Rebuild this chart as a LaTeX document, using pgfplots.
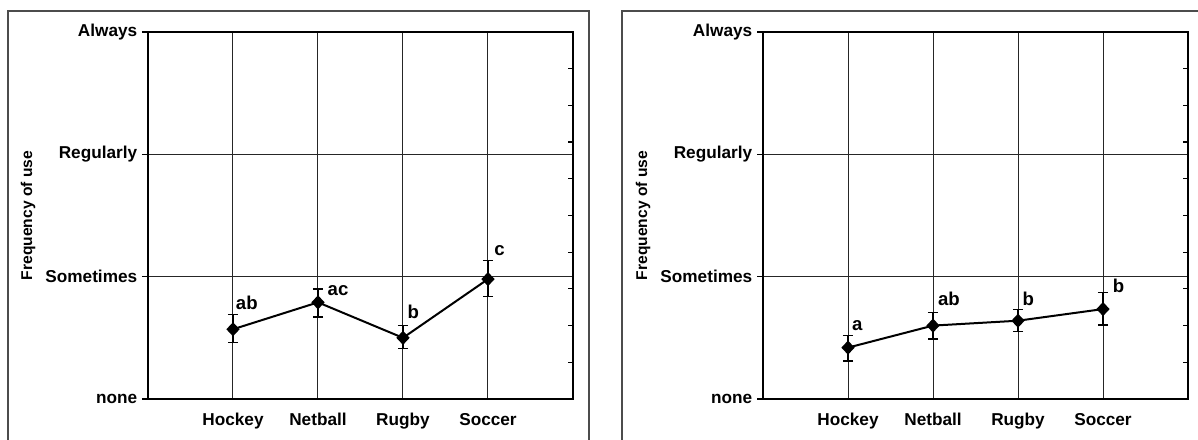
\documentclass[border=0pt]{standalone}
\usepackage{pgfplots}
\pgfplotsset{compat=1.18}
\usepackage{fontspec}
\setmainfont{Liberation Sans}
\begin{document}
\begin{tikzpicture}[x=1pt,y=1pt]
\path[use as bounding box] (0,0) rectangle (599,219.5);
\clip (0,0) rectangle (599,219.5);
\draw[black!70, line width=0.6pt] (4,-5) rectangle (294.5,214);
\draw[black!70, line width=0.6pt] (311,-5) rectangle (610,214);
\pgfplotsset{
  panel/.style={
    scale only axis, width=212.5pt, height=183.5pt, anchor=south west,
    xmin=0, xmax=5, ymin=0, ymax=3,
    axis line style={line width=0.8pt},
    xtick={1,2,3,4}, xticklabels={Hockey,Netball,Rugby,Soccer},
    xmajorgrids, xtick pos=bottom, major x tick style={draw=none},
    x tick label style={font=\bfseries\fontsize{8.6}{10}\selectfont, inner sep=0pt, yshift=-3.8pt},
    ytick={0,1,2,3}, yticklabels={none,Sometimes,Regularly,Always},
    ymajorgrids, ytick pos=left, tick align=outside, major tick length=3pt,
    major y tick style={line width=0.6pt, black},
    y tick label style={font=\bfseries\fontsize{8.6}{10}\selectfont, inner sep=0pt, xshift=-2.2pt},
    grid style={black!85, line width=0.5pt},
    ylabel={Frequency of use},
    ylabel style={at={(axis description cs:-0.282,0.5)}, anchor=center, font=\bfseries\fontsize{7.8}{9}\selectfont},
    clip=false,
  },
  minorpanel/.style={
    scale only axis, width=212.5pt, height=183.5pt, anchor=south west,
    xmin=0, xmax=5, ymin=0, ymax=3,
    axis x line=none, axis y line*=right, axis line style={draw=none},
    ytick={0.3,0.6,0.9,1.2,1.5,1.8,2.1,2.4,2.7}, yticklabels={},
    tick align=inside, major tick length=2.5pt, major y tick style={line width=0.6pt, black},
  },
  series/.style={black, line width=1pt, mark=diamond*, mark size=2.8pt,
    mark options={xscale=1.25, solid, fill=black},
    error bars/.cd, y dir=both, y explicit,
    error bar style={line width=0.6pt, black},
    error mark options={rotate=90, mark size=2.6pt, line width=0.6pt, black}},
}
% Left panel
\begin{axis}[panel, at={(74pt,20pt)}]
\addplot+[series] coordinates {
  (1,0.57) += (0,0.12) -= (0,0.11)
  (2,0.79) += (0,0.11) -= (0,0.12)
  (3,0.50) += (0,0.10) -= (0,0.09)
  (4,0.98) += (0,0.15) -= (0,0.14)
};
\begin{scope}[every node/.style={font=\bfseries\fontsize{9.3}{10}\selectfont, inner sep=0pt, anchor=base west}]
\node at (axis cs:1.03,0.735) {ab};
\node at (axis cs:2.11,0.85) {ac};
\node at (axis cs:3.05,0.654) {b};
\node at (axis cs:4.07,1.17) {c};
\end{scope}
\end{axis}
\begin{axis}[minorpanel, at={(74pt,20pt)}]
\end{axis}
% Right panel
\begin{axis}[panel, at={(381.5pt,20pt)}]
\addplot+[series] coordinates {
  (1,0.42) += (0,0.10) -= (0,0.11)
  (2,0.60) += (0,0.105) -= (0,0.11)
  (3,0.64) += (0,0.09) -= (0,0.09)
  (4,0.735) += (0,0.135) -= (0,0.13)
};
\begin{scope}[every node/.style={font=\bfseries\fontsize{9.3}{10}\selectfont, inner sep=0pt, anchor=base west}]
\node at (axis cs:1.045,0.564) {a};
\node at (axis cs:2.055,0.763) {ab};
\node at (axis cs:3.05,0.768) {b};
\node at (axis cs:4.11,0.87) {b};
\end{scope}
\end{axis}
\begin{axis}[minorpanel, at={(381.5pt,20pt)}]
\end{axis}
\end{tikzpicture}
\end{document}
